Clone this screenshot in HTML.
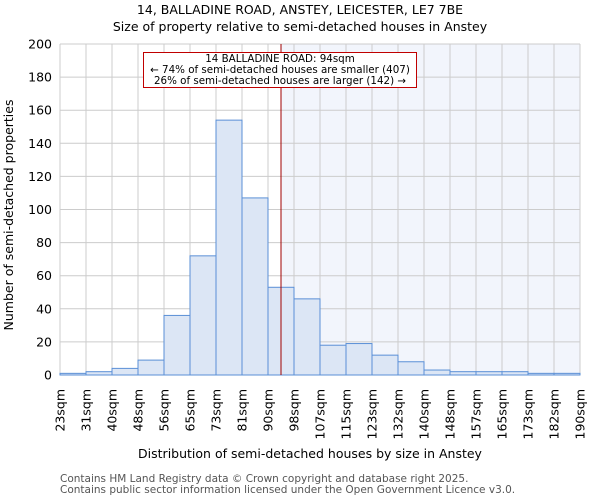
<!DOCTYPE html>
<html><head><meta charset="utf-8"><style>
body{margin:0;background:#fff;font-family:"DejaVu Sans","Liberation Sans",sans-serif}
svg text{font-family:"DejaVu Sans","Liberation Sans",sans-serif}
</style></head><body>
<svg id="chart" width="600" height="500">
<text x="300" y="14" text-anchor="middle" font-size="12.5">14, BALLADINE ROAD, ANSTEY, LEICESTER, LE7 7BE</text>
<text x="300" y="31" text-anchor="middle" font-size="12.5">Size of property relative to semi-detached houses in Anstey</text>
<g id="plot"></g>
<text x="310" y="458" text-anchor="middle" font-size="12.5">Distribution of semi-detached houses by size in Anstey</text>
<text transform="translate(13,215) rotate(-90)" text-anchor="middle" font-size="12.5">Number of semi-detached properties</text>
<text x="60" y="482" font-size="10.5" fill="#555">Contains HM Land Registry data © Crown copyright and database right 2025.</text>
<text x="60" y="493" font-size="10.5" fill="#555">Contains public sector information licensed under the Open Government Licence v3.0.</text>
</svg>
<script>
const categories=["23sqm","31sqm","40sqm","48sqm","56sqm","65sqm","73sqm","81sqm","90sqm","98sqm","107sqm","115sqm","123sqm","132sqm","140sqm","148sqm","157sqm","165sqm","173sqm","182sqm","190sqm"];
const counts=[1,2,4,9,36,72,154,107,53,46,18,19,12,8,3,2,2,2,1,1];
const yTicks=[0,20,40,60,80,100,120,140,160,180,200];
const markerBin=8.5;
const NS="http://www.w3.org/2000/svg";
const L=60,R=580,T=44,B=375,yMax=200;
const bw=(R-L)/counts.length;
const xs=i=>L+i*bw;
const ys=v=>B-(v/yMax)*(B-T);
const g=document.getElementById('plot');
function mk(t,a){const e=document.createElementNS(NS,t);for(const k in a)e.setAttribute(k,a[k]);g.appendChild(e);return e;}
const mx=xs(markerBin);
let e=mk('rect',{x:mx,y:T,width:R-mx,height:B-T,fill:'#f2f5fc'});


yTicks.forEach(v=>{
 const l=mk('line',{x1:L,x2:R,y1:ys(v),y2:ys(v),stroke:'#ccc','stroke-width':1});
 
 
 const t=mk('text',{x:L-8,y:ys(v)+4.5,'text-anchor':'end','font-size':'12.5'});
 t.textContent=v;
 
 
});
categories.forEach((c,i)=>{
 const x=xs(i);
 const l=mk('line',{x1:x,x2:x,y1:T,y2:B,stroke:'#ccc','stroke-width':1});
 
 
 const t=mk('text',{transform:`translate(${x+4.5},389) rotate(-90)`,'text-anchor':'end','font-size':'12.5'});
 t.textContent=c;
 
 
});
counts.forEach((v,i)=>{
 const r=mk('rect',{x:xs(i),y:ys(v),width:bw,height:B-ys(v),fill:'#dce6f5',stroke:'#5a8fd6','stroke-width':1});
 
 
});
e=mk('line',{x1:mx,x2:mx,y1:T,y2:B,stroke:'#a00000','stroke-width':1});


e=mk('rect',{x:143.5,y:52.5,width:273,height:35,fill:'#fff',stroke:'#c00000','stroke-width':1});


["14 BALLADINE ROAD: 94sqm","← 74% of semi-detached houses are smaller (407)","26% of semi-detached houses are larger (142) →"].forEach((s,i)=>{
 const t=mk('text',{x:280,y:62+i*11,'text-anchor':'middle','font-size':'10.3'});
 t.textContent=s;
 
 
});
</script>
</body></html>
